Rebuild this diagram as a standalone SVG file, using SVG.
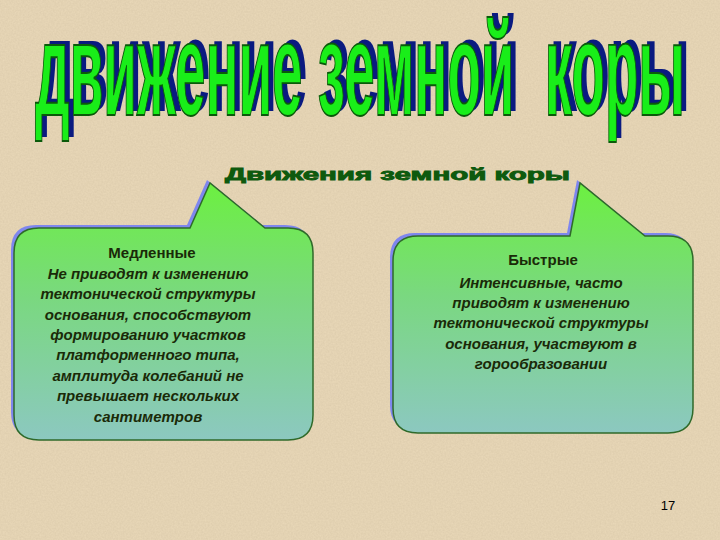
<svg xmlns="http://www.w3.org/2000/svg" width="720" height="540" viewBox="0 0 720 540">
<defs>
<linearGradient id="g" x1="0" y1="0" x2="0" y2="1">
<stop offset="0" stop-color="#6cf040"/><stop offset="0.45" stop-color="#7ad880"/><stop offset="1" stop-color="#8cc8c0"/>
</linearGradient>
<filter id="n"><feTurbulence type="fractalNoise" baseFrequency="0.6" numOctaves="2" seed="3"/><feColorMatrix values="0 0 0 0 0.55  0 0 0 0 0.45  0 0 0 0 0.3  0 0 0 0.35 0"/></filter>
</defs>
<style>
.box{fill:url(#g);stroke:#2f6a2a;stroke-width:1.5}
.sh{fill:#7f86ee}
.h{font-family:"Liberation Sans",Arial,sans-serif;font-weight:bold;font-size:15px;fill:#1a2a08;text-anchor:middle}
.t{font-family:"Liberation Sans",Arial,sans-serif;font-weight:bold;font-style:italic;font-size:15px;fill:#1a2a08;text-anchor:middle}
.title{font-family:"Liberation Sans",Arial,sans-serif;font-weight:bold;font-size:56px}
</style>
<rect width="720" height="540" fill="#ead9b9"/>
<rect width="720" height="540" filter="url(#n)"/>
<g id="title">
<text class="title" x="40" y="49" fill="#0a1a80" textLength="650" lengthAdjust="spacingAndGlyphs" transform="translate(0,-4) scale(1,2.35)">движение земной&#160; коры</text>
<text class="title" x="35" y="49" fill="#19ee19" stroke="#0a5a0a" stroke-width="0.8" textLength="650" lengthAdjust="spacingAndGlyphs" transform="scale(1,2.35)">движение земной&#160; коры</text>
</g>
<g id="subtitle">
<text class="title" x="225" y="180" fill="#0e5a0e" stroke="#0e5a0e" stroke-width="3" font-size="30" textLength="345" lengthAdjust="spacingAndGlyphs" transform="translate(0,180) scale(1,0.28) translate(0,-180)">Движения земной коры</text>
</g>
<g id="slow">
<path class="sh" transform="translate(-3,-3)" d="M39 228 H190 L210 183 L265 228 H288 Q313 228 313 253 V415 Q313 440 288 440 H39 Q14 440 14 415 V253 Q14 228 39 228 Z"/>
<path class="box" d="M39 228 H190 L210 183 L265 228 H288 Q313 228 313 253 V415 Q313 440 288 440 H39 Q14 440 14 415 V253 Q14 228 39 228 Z"/>
<text class="h" x="152" y="258">Медленные</text>
<text class="t" x="148" y="279">Не приводят к изменению</text>
<text class="t" x="148" y="299">тектонической структуры</text>
<text class="t" x="148" y="320">основания, способствуют</text>
<text class="t" x="148" y="340">формированию участков</text>
<text class="t" x="148" y="360">платформенного типа,</text>
<text class="t" x="148" y="381">амплитуда колебаний не</text>
<text class="t" x="148" y="401">превышает нескольких</text>
<text class="t" x="148" y="422">сантиметров</text>
</g>
<g id="fast">
<path class="sh" transform="translate(-3,-3)" d="M418 236 H570 L580 183 L645 236 H668 Q693 236 693 261 V408 Q693 433 668 433 H418 Q393 433 393 408 V261 Q393 236 418 236 Z"/>
<path class="box" d="M418 236 H570 L580 183 L645 236 H668 Q693 236 693 261 V408 Q693 433 668 433 H418 Q393 433 393 408 V261 Q393 236 418 236 Z"/>
<text class="h" x="543" y="265">Быстрые</text>
<text class="t" x="541" y="288">Интенсивные, часто</text>
<text class="t" x="541" y="308">приводят к изменению</text>
<text class="t" x="541" y="328">тектонической структуры</text>
<text class="t" x="541" y="349">основания, участвуют в</text>
<text class="t" x="541" y="369">горообразовании</text>
</g>
<text x="668" y="510" font-family="Liberation Sans,Arial,sans-serif" font-size="13" fill="#000" text-anchor="middle">17</text>
</svg>
